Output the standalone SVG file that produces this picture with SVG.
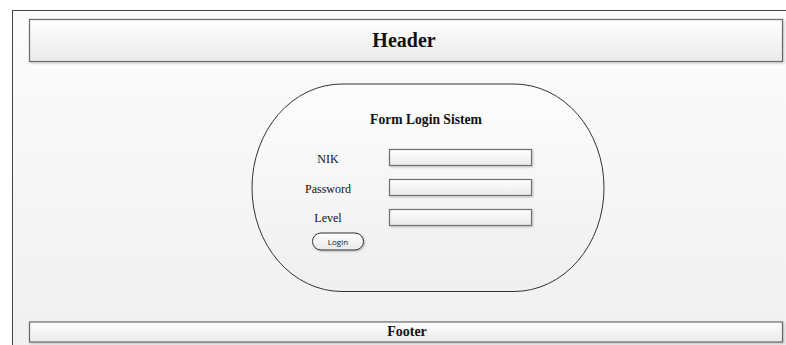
<svg xmlns="http://www.w3.org/2000/svg" width="786" height="345" viewBox="0 0 786 345">
  <defs>
    <linearGradient id="bg" x1="0" y1="0" x2="0" y2="1">
      <stop offset="0" stop-color="#fcfcfc"/>
      <stop offset="1" stop-color="#eeeeee"/>
    </linearGradient>
    <linearGradient id="bar" x1="0" y1="0" x2="0" y2="1">
      <stop offset="0" stop-color="#ffffff"/>
      <stop offset="1" stop-color="#e9e9e9"/>
    </linearGradient>
    <linearGradient id="shape" x1="0" y1="0" x2="0" y2="1">
      <stop offset="0" stop-color="#fdfdfd"/>
      <stop offset="1" stop-color="#efefef"/>
    </linearGradient>
    <filter id="sh" x="-5%" y="-20%" width="110%" height="150%">
      <feDropShadow dx="1" dy="1" stdDeviation="0.8" flood-color="#000" flood-opacity="0.25"/>
    </filter>
  </defs>
  <style>
    .bar { fill: url(#bar); stroke: #6b6b6b; stroke-width: 1.2; filter: url(#sh); }
    .field { fill: url(#bar); stroke: #707070; stroke-width: 1.2; filter: url(#sh); }
    .serif { font-family: "Liberation Serif", "Times New Roman", serif; fill: #111; }
    .bold { font-weight: bold; }
    .lbl { font-size: 12px; text-anchor: middle; }
  </style>
  <rect width="786" height="345" fill="#ffffff"/>
  <rect id="frame" x="12.5" y="10.5" width="800" height="400" fill="url(#bg)" stroke="#444" stroke-width="1"/>

  <g id="header">
    <rect class="bar" x="29.5" y="19.5" width="753" height="42"/>
    <text class="serif bold" x="404" y="47" font-size="20" text-anchor="middle">Header</text>
  </g>

  <g id="form">
    <rect x="252" y="84" width="352" height="207.5" rx="90" ry="103.7" fill="url(#shape)" stroke="#333" stroke-width="1"/>
    <text class="serif bold" x="426" y="123.5" font-size="13.6" text-anchor="middle">Form Login Sistem</text>
  </g>

  <g id="nik">
    <text class="serif lbl" x="328" y="163">NIK</text>
    <rect class="field" x="389.5" y="149.5" width="142" height="16"/>
  </g>
  <g id="password">
    <text class="serif lbl" x="328" y="193">Password</text>
    <rect class="field" x="389.5" y="179.5" width="142" height="16"/>
  </g>
  <g id="level">
    <text class="serif lbl" x="328" y="222">Level</text>
    <rect class="field" x="389.5" y="209.5" width="142" height="16"/>
  </g>
  <g id="login">
    <rect x="312.5" y="233" width="51" height="17" rx="8.5" ry="8.5" fill="url(#bar)" stroke="#333" stroke-width="1" filter="url(#sh)"/>
    <text x="338" y="244.5" font-family="'Open Sans', 'Liberation Sans', sans-serif" font-size="8" text-anchor="middle" fill="#111">Login</text>
  </g>

  <g id="footer">
    <rect class="bar" x="29.5" y="322" width="753" height="20"/>
    <text class="serif bold" x="407" y="336" font-size="14" text-anchor="middle">Footer</text>
  </g>

  <g id="connectors"/>
</svg>
